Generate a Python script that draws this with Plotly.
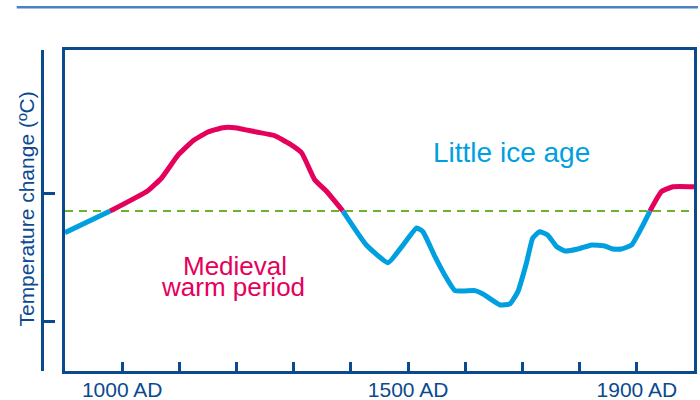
import plotly.graph_objects as go

# ---- data ----
years = [900, 979, 1045, 1069, 1098, 1124, 1150, 1176, 1197, 1235, 1267, 1293,
         1314, 1337, 1358, 1386, 1427, 1465, 1489, 1515, 1526, 1547, 1564, 1582,
         1617, 1631, 1661, 1678, 1692, 1707, 1718, 1730, 1744, 1760, 1774, 1797,
         1821, 1844, 1858, 1873, 1891, 1908, 1923, 1943, 1963, 2000]
temps = [-0.302, -0.133, 0.026, 0.125, 0.305, 0.416, 0.484, 0.518, 0.518, 0.484, 0.455, 0.391,
         0.320, 0.109, 0.018, -0.133, -0.398, -0.537, -0.412, -0.266, -0.295, -0.490, -0.633, -0.755,
         -0.755, -0.781, -0.867, -0.859, -0.763, -0.539, -0.344, -0.295, -0.320, -0.412, -0.445, -0.430,
         -0.398, -0.406, -0.430, -0.430, -0.398, -0.266, -0.133, 0.018, 0.057, 0.057]
reference = -0.133          # early 20th-century level (dashed line)
tick_years = [1000, 1100, 1200, 1300, 1400, 1500, 1600, 1700, 1800, 1900]
tick_text = ["1000 AD", "", "", "", "", "1500 AD", "", "", "", "1900 AD"]
y_range = [-1.383, 1.125]
bracket_ticks = [-1.383, -1.0, 0.0, 1.125]

WARM = "#e5005b"
COLD = "#009fe0"
NAVY = "#0b4a8f"
GREEN = "#6ab42d"
FONT = "Liberation Sans, Arial, Helvetica, sans-serif"

# split series into warm (>= reference) and cold (<= reference) runs
segments = []
cur_x, cur_y, cur_warm = [years[0]], [temps[0]], temps[1] > reference
for i in range(1, len(years)):
    cur_x.append(years[i]); cur_y.append(temps[i])
    if temps[i] == reference and i < len(years) - 1:
        segments.append((cur_x, cur_y, cur_warm))
        cur_x, cur_y = [years[i]], [temps[i]]
        cur_warm = temps[i + 1] > reference
segments.append((cur_x, cur_y, cur_warm))

fig = go.Figure()
for sx, sy, warm in segments:
    fig.add_trace(go.Scatter(x=sx, y=sy, mode="lines",
                             line=dict(color=WARM if warm else COLD, width=5,
                                       shape="spline", smoothing=0.4),
                             hoverinfo="x+y", showlegend=False))

# invisible trace to carry the bracket axis
fig.add_trace(go.Scatter(x=[years[0]], y=[temps[0]], yaxis="y2", mode="markers",
                         marker=dict(opacity=0), showlegend=False, hoverinfo="skip"))

fig.add_shape(type="line", xref="x domain", yref="y", x0=0, x1=1,
              y0=reference, y1=reference,
              line=dict(color=GREEN, width=2, dash="8px,6px"), layer="below")

# top rule
fig.add_shape(type="line", xref="paper", yref="paper", x0=-0.02, x1=1.006,
              y0=1.133, y1=1.133, line=dict(color="#4d80bd", width=2.5))

fig.add_annotation(text="Little ice age", x=1680, y=0.327, xref="x", yref="y",
                   xanchor="center", yanchor="middle",
                   showarrow=False, font=dict(family=FONT, size=28, color=COLD))
fig.add_annotation(text="Medieval", x=1198, y=-0.564, xref="x", yref="y",
                   xanchor="center", yanchor="middle",
                   showarrow=False, font=dict(family=FONT, size=26, color=WARM))
fig.add_annotation(text="warm period", x=1194, y=-0.725, xref="x", yref="y",
                   xanchor="center", yanchor="middle",
                   showarrow=False, font=dict(family=FONT, size=26, color=WARM))
fig.add_annotation(text="Temperature change (ºC)", x=-0.0045, y=0.503,
                   xref="paper", yref="paper", textangle=-90, showarrow=False,
                   xanchor="center", yanchor="middle",
                   font=dict(family=FONT, size=21, color=NAVY))

fig.update_layout(
    width=700, height=400,
    margin=dict(l=30, r=6, t=50, b=29),
    paper_bgcolor="white", plot_bgcolor="white",
    font=dict(family=FONT, color=NAVY),
    xaxis=dict(domain=[0.0527, 1], range=[900, 2000], showgrid=False, zeroline=False,
               automargin=False,
               showline=True, linewidth=3, linecolor=NAVY, mirror=True,
               tickmode="array", tickvals=tick_years, ticktext=tick_text,
               ticks="inside", ticklen=9, tickwidth=2.5, tickcolor=NAVY,
               ticklabelstandoff=-2,
               tickfont=dict(family=FONT, size=21, color=NAVY)),
    yaxis=dict(range=y_range, showgrid=False, zeroline=False, showticklabels=False,
               automargin=False,
               showline=True, linewidth=3, linecolor=NAVY, mirror=True, ticks=""),
    yaxis2=dict(range=y_range, overlaying="y", anchor="free", position=0.0181,
                side="left", showgrid=False, zeroline=False, showticklabels=False,
                automargin=False,
                showline=True, linewidth=3, linecolor=NAVY,
                tickmode="array", tickvals=bracket_ticks,
                ticks="inside", ticklen=11, tickwidth=3, tickcolor=NAVY),
)

fig.write_html("out.html", config={"displayModeBar": False},
               post_script="document.body.style.margin='0';")
